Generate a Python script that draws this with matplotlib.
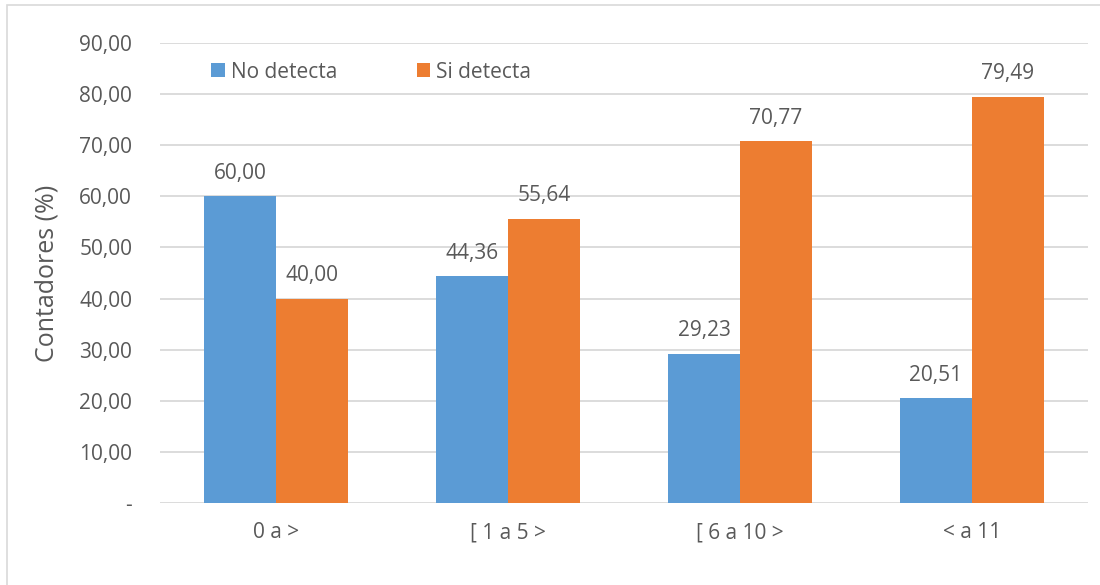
import matplotlib
matplotlib.use("Agg")
import matplotlib.pyplot as plt
import numpy as np
from matplotlib.patches import Rectangle

categories = ["0 a >", "[ 1 a 5 >", "[ 6 a 10 >", "< a 11"]
no_detecta = [60.00, 44.36, 29.23, 20.51]
si_detecta = [40.00, 55.64, 70.77, 79.49]
series_names = ["No detecta", "Si detecta"]
yticks = [0, 10, 20, 30, 40, 50, 60, 70, 80, 90]

def fmt(v):
    return f"{v:.2f}".replace(".", ",")

plt.rcParams['font.family'] = ['Open Sans', 'DejaVu Sans']
TXT = "#595959"
FS = 15

fig = plt.figure(figsize=(11, 5.85), dpi=100)
W, H = 1100, 585
ax = fig.add_axes([160 / W, 1 - 503 / H, (1088 - 160) / W, (503 - 43) / H])

# figure border (top and left visible)
fig.patches.append(Rectangle((7 / W, -0.05), 1.2, 1 - 5 / H + 0.05,
                             transform=fig.transFigure, fill=False,
                             edgecolor="#D9D9D9", linewidth=1.2))

x = np.arange(len(categories))
bw = 0.31
b1 = ax.bar(x - bw / 2, no_detecta, bw, color="#5B9BD5", label=series_names[0], zorder=3)
b2 = ax.bar(x + bw / 2, si_detecta, bw, color="#ED7D31", label=series_names[1], zorder=3)

for bars, vals in ((b1, no_detecta), (b2, si_detecta)):
    for r, v in zip(bars, vals):
        ax.annotate(fmt(v), (r.get_x() + r.get_width() / 2, v),
                    xytext=(0, 9), textcoords="offset points",
                    ha="center", va="bottom", fontsize=FS, color=TXT)

ax.set_xlim(-0.5, len(categories) - 0.5)
ax.set_ylim(0, 90)
ax.set_yticks(yticks)
ax.set_yticklabels(["-" if t == 0 else fmt(t) for t in yticks])
ax.set_xticks(x)
ax.set_xticklabels(categories)
ax.tick_params(axis="both", length=0, labelsize=FS, labelcolor=TXT)
ax.tick_params(axis="y", pad=20)
ax.tick_params(axis="x", pad=14)
ax.grid(axis="y", color="#D9D9D9", linewidth=1.3, zorder=0)
for s in ax.spines.values():
    s.set_visible(False)
ax.set_ylabel("Contadores (%)", fontsize=18, color=TXT, labelpad=14)

leg = ax.legend(loc="upper left", bbox_to_anchor=(0.035, 1.0), ncol=2, frameon=False,
                fontsize=FS, labelcolor=TXT, handlelength=0.65, handleheight=0.65,
                handletextpad=0.3, columnspacing=3.8)

fig.savefig("out.png", dpi=100, facecolor="white")
